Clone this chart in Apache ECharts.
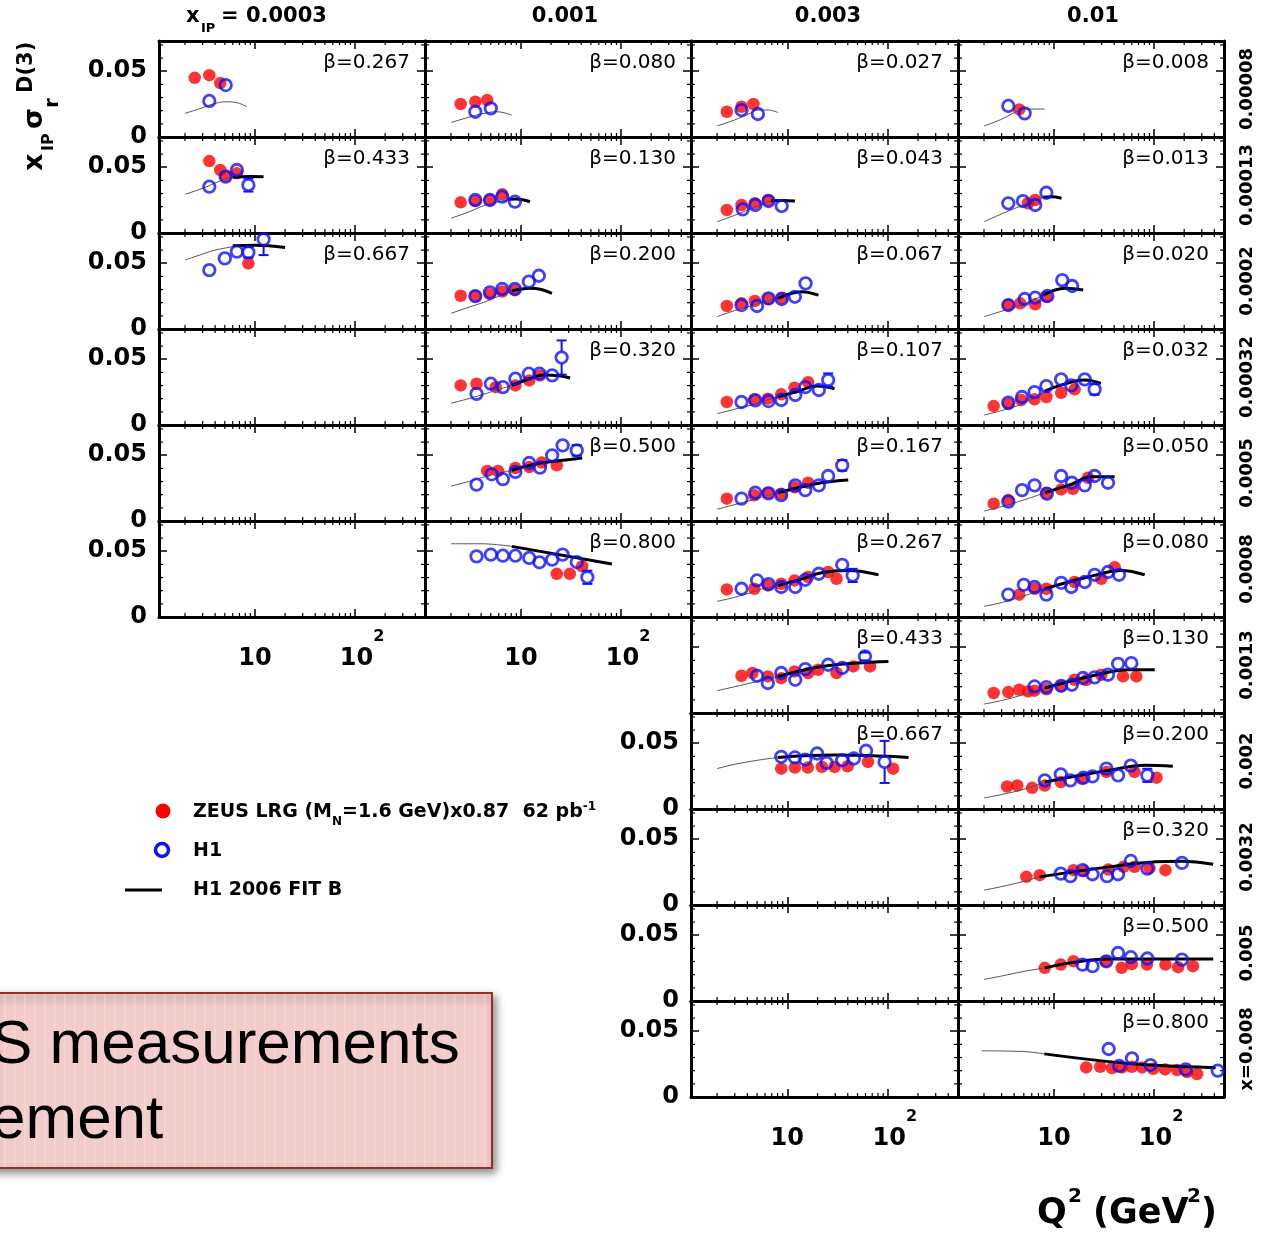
<!DOCTYPE html>
<html>
<head>
<meta charset="utf-8">
<script src="https://cdn.jsdelivr.net/npm/echarts@6/dist/echarts.min.js"></script>
<style>
  html, body { margin: 0; padding: 0; background: #fff; }
  #c { width: 1264px; height: 1235px; }
</style>
</head>
<body>
<div id="c"></div>
<script>
// column headers (x_IP bins) and row labels (x bins)
var xpomLabels = ['0.0003', '0.001', '0.003', '0.01'];
var xLabels = ['0.00008', '0.00013', '0.0002', '0.00032', '0.0005', '0.0008',
               '0.0013', '0.002', '0.0032', '0.005', 'x=0.008'];

// beta value of every panel, per column (empty = frame without data)
var betaA = ['0.267', '0.433', '0.667', '', '', ''];
var betaB = ['0.080', '0.130', '0.200', '0.320', '0.500', '0.800'];
var betaC = ['0.027', '0.043', '0.067', '0.107', '0.167', '0.267', '0.433', '0.667', '', '', ''];
var betaD = ['0.008', '0.013', '0.020', '0.032', '0.050', '0.080', '0.130', '0.200', '0.320', '0.500', '0.800'];

// ZEUS LRG points [Q2, xIP*sigma_r]
var zeusA = [
  [[2.5,.045],[3.5,.047],[4.5,.041]],
  [[3.5,.0547],[4.5,.0479],[5.1,.0436],[6.6,.0454]],
  [[8.6,.0499]],
  [], [], []
];
var zeusB = [
  [[2.5,.0251],[3.5,.0268],[4.6,.0281]],
  [[2.5,.0233],[3.5,.0243],[4.9,.0251],[6.5,.0294]],
  [[2.5,.0253],[3.5,.025],[4.9,.0265],[6.5,.0285],[8.7,.0295]],
  [[2.5,.0301],[3.6,.0314],[5.6,.0288],[8.8,.0301],[12.1,.0339],[15.5,.0377]],
  [[4.6,.038],[5.9,.038],[8.8,.0403],[12.1,.041],[16.1,.0444],[22.8,.0423]],
  [[22.8,.0328],[30.8,.0328],[40.9,.0386]]
];
var zeusC = [
  [[2.5,.0192],[3.5,.023],[4.6,.0251]],
  [[2.5,.0175],[3.5,.0213],[4.75,.0226],[6.46,.0251]],
  [[2.5,.0175],[3.5,.0195],[4.75,.0213],[6.46,.0228],[8.8,.0238]],
  [[2.5,.0175],[4.7,.0195],[6.4,.020],[8.7,.0233],[11.8,.0283],[16.1,.0326]],
  [[2.5,.017],[4.7,.0195],[6.4,.0215],[8.7,.0207],[11.8,.0256],[16.1,.0291]],
  [[2.5,.021],[4.7,.0215],[6.4,.024],[8.7,.0253],[11.8,.0278],[16.1,.0304],[25.5,.0342],[30.9,.0291]],
  [[3.5,.0283],[4.5,.0304],[6.4,.0278],[8.7,.0265],[11.8,.0316],[16.1,.0304],[20.3,.0329],[30.9,.0304],[45.4,.0354],[66.6,.0354]],
  [[8.7,.0307],[11.9,.0315],[16,.0315],[22.1,.032],[29.6,.032],[39.8,.0325],[63.5,.0358],[113,.0307]],
  [], [], []
];
var zeusD = [
  [[4.5,.021]],
  [[5.5,.0226],[6.5,.0251]],
  [[3.5,.0182],[4.6,.0195],[6.5,.0188],[8.4,.0245]],
  [[2.5,.0144],[3.5,.016],[4.7,.019],[6.4,.0195],[8.4,.0213],[11.8,.0245],[16.1,.0271]],
  [[2.5,.0132],[3.5,.0159],[8.4,.0215],[11.8,.024],[15.5,.0245],[21.9,.0329]],
  [[4.5,.017],[6.4,.0215],[8.4,.0215],[16.1,.0266],[29.7,.0291],[40.4,.0379]],
  [[2.5,.0152],[3.5,.0159],[4.5,.0177],[5.5,.0164],[6.4,.017],[8.4,.018],[11.8,.0205],[16.1,.0253],[21,.025],[29.7,.0291],[49,.0278],[66.6,.0278]],
  [[3.4,.0171],[4.3,.0179],[6.05,.0161],[8.1,.0179],[11.7,.0205],[19,.023],[33.4,.0282],[63.8,.0282],[106,.0238]],
  [[5.3,.0214],[7.2,.0227],[15.7,.0265],[20,.026],[35,.027],[49.5,.029],[63.8,.029],[90,.028],[130,.0265]],
  [[8.1,.0252],[11.7,.0277],[15.7,.0302],[33,.030],[47.5,.0252],[60,.028],[85,.0277],[130,.0277],[174,.0257],[245,.0265]],
  [[21,.0225],[29,.023],[38,.022],[48,.0225],[60,.023],[76,.0225],[98,.0215],[129,.021],[170,.0205],[214,.019],[269,.0175]]
];

// H1 points [Q2, value, (error)]
var h1A = [
  [[3.5,.0274],[5.1,.0395]],
  [[3.5,.0352],[5.1,.0428],[6.6,.0479],[8.6,.0365,.005]],
  [[3.5,.0448],[5.0,.0537],[6.6,.0588],[8.6,.0583,.004],[12.2,.0682,.012]],
  [], [], []
];
var h1B = [
  [[3.5,.0192],[5.0,.0218]],
  [[3.5,.0251],[4.9,.0251],[6.5,.0276],[8.7,.0238]],
  [[3.5,.025],[4.9,.0279],[6.5,.0304],[8.7,.0304],[12,.036],[15.1,.0405]],
  [[3.6,.0237],[5.0,.0314],[6.6,.0288],[8.8,.0352],[12,.039],[15.3,.039],[20.5,.0377],[25.5,.0513,.013]],
  [[3.6,.0277],[5.1,.0355],[6.6,.0318],[8.8,.0373],[12.1,.0441],[15.5,.0406],[20.5,.0499],[26.1,.0575],[36.1,.0537,.004]],
  [[3.6,.0461],[5.0,.0474],[6.6,.0466],[8.8,.0466],[12.1,.0449],[15.3,.0416],[20.5,.0436],[26.1,.0474],[36.1,.0418],[46.1,.0302,.005]]
];
var h1C = [
  [[3.5,.0205],[5.1,.0175]],
  [[3.6,.018],[4.8,.0213],[6.5,.0243],[8.8,.0205]],
  [[3.5,.0182],[5.0,.0175],[6.5,.0233],[8.8,.0228],[11.9,.0245],[15.2,.0347]],
  [[3.5,.0175],[4.8,.0187],[6.5,.0182],[8.7,.019],[12,.0228],[15.1,.0288],[20.6,.0266],[25.5,.0342,.005]],
  [[3.5,.017],[4.8,.0215],[6.5,.021],[8.7,.0197],[12,.0271],[15.1,.0235],[20.6,.0271],[25.5,.0342],[35.2,.0423,.004]],
  [[3.5,.0215],[5.0,.0278],[6.5,.025],[8.7,.0228],[12,.0228],[15.1,.0283],[20.6,.0329],[35.2,.0397],[44.7,.0316,.005]],
  [[5.0,.0283],[6.4,.0228],[8.7,.0304],[12,.0253],[15.1,.0334],[25.5,.0367],[35.2,.0342],[59.3,.043,.003]],
  [[8.7,.0397],[11.9,.0392],[15.1,.0376],[19.8,.0422],[24.6,.0351],[35.2,.0371],[46,.0384],[60.8,.0443],[93,.0358,.016]],
  [], [], []
];
var h1D = [
  [[3.5,.0236],[5.1,.018]],
  [[3.5,.0226],[4.9,.0243],[6.5,.0213],[8.4,.0306]],
  [[3.5,.0182],[5.1,.0228],[6.5,.0238],[8.6,.0251],[12.1,.0372],[15.2,.0327]],
  [[3.5,.017],[4.8,.0213],[6.4,.025],[8.4,.0296],[11.8,.0347],[14.9,.0301],[20.3,.0347],[25.5,.0271,.004]],
  [[3.5,.0147],[4.8,.0235],[6.4,.0271],[8.5,.0207],[11.8,.0342],[15.1,.0291],[20.3,.0271],[25.5,.0342],[34.7,.0291]],
  [[3.5,.017],[5.0,.0245],[6.4,.0228],[8.4,.017],[11.8,.026],[14.9,.0228],[20.3,.0266],[25.5,.0321],[34.7,.0342],[44.7,.0321]],
  [[6.4,.0202],[8.4,.0197],[11.8,.0207],[15.1,.0215],[19.5,.0266],[25.5,.0271],[34.7,.0291],[43.7,.0374],[59.3,.0379]],
  [[8.1,.0218],[11.7,.0264],[14.6,.0218],[19.7,.0238],[24.3,.0248],[33.4,.0307],[43.7,.0256],[58.6,.033],[85.7,.0256,.005]],
  [[11.7,.0239],[14.6,.0219],[19.3,.0265],[24.3,.0234],[33.9,.0219],[43.7,.0234],[58.6,.0335],[85.7,.0277],[190,.032]],
  [[19.3,.0277],[24.3,.0265],[33.4,.0302],[43.7,.0365],[58.6,.0333],[85.7,.0323],[190,.0315]],
  [[35.2,.0365],[44.9,.0236],[60.2,.0294],[92,.0243],[207,.021],[433,.02]]
];

// H1 2006 fit B: thin extrapolation below Q2min, thick in fitted range
var extA = [
  [[2.0,.018],[2.8,.0215],[3.8,.025],[5.2,.0268],[6.8,.0258],[8.3,.023]],
  [[2.0,.0294],[3,.034],[4,.038],[5,.041],[6,.0425]],
  [[2.0,.0524],[3,.057],[4,.060],[6,.0626]],
  [], [], []
];
var fitA = [
  [],
  [[6,.0423],[9,.043],[12.2,.0428]],
  [[6,.0633],[10,.0637],[20,.062]],
  [], [], []
];
var extB = [
  [[2.0,.011],[3,.015],[4,.0175],[5.7,.0192],[8.1,.0167]],
  [[2.0,.0112],[3,.016],[4,.020],[5,.0225],[7.4,.0251]],
  [[2.0,.0119],[3,.0165],[4.5,.021],[6,.025],[8.1,.0284]],
  [[2.0,.0166],[3,.020],[4.5,.024],[6,.027],[8.1,.0301]],
  [[2.0,.0265],[3,.030],[4.5,.034],[6,.0365],[8.1,.0386]],
  [[2.0,.0557],[4,.0557],[8.1,.0537]]
];
var fitB = [
  [],
  [[7.4,.0256],[9,.0258],[12.3,.0238]],
  [[8.1,.0289],[12.3,.031],[16,.030],[20.4,.0271]],
  [[8.1,.0301],[12,.035],[17,.038],[24,.0375],[31,.0357]],
  [[8.1,.0386],[14.3,.0436],[25,.046],[41,.0479]],
  [[8.1,.0537],[81,.0403]]
];
var extC = [
  [[2.0,.0084],[3,.013],[4,.017],[5.1,.0205],[6.5,.0205],[8.1,.0185]],
  [[2.0,.0086],[3,.0135],[4.5,.019],[6.9,.0245]],
  [[2.0,.0094],[3,.014],[4.5,.018],[6,.021],[8.1,.0233]],
  [[2.0,.0086],[3,.012],[4.5,.0155],[6,.0185],[8.1,.0215]],
  [[2.0,.0089],[3,.0125],[4.5,.016],[6,.019],[8.1,.0215]],
  [[2.0,.0119],[3,.015],[4.5,.019],[6,.022],[8.1,.024]],
  [[2.0,.017],[3,.020],[5,.024],[8.1,.0278]],
  [[2.0,.0307],[3,.034],[5,.037],[8.0,.0392]],
  [], [], []
];
var fitC = [
  [],
  [[6.9,.0245],[9,.0248],[11.9,.0243]],
  [[8.1,.0233],[13.9,.0284],[20.4,.0258]],
  [[8.1,.0215],[12,.025],[20,.0296],[29.5,.0276]],
  [[8.1,.0215],[14,.026],[21.9,.0291],[40.4,.0311]],
  [[8.1,.024],[14,.029],[21.9,.0336],[40.4,.0354],[80.7,.0321]],
  [[8.1,.0278],[21.9,.0354],[50,.038],[101.6,.0392]],
  [[8.0,.0392],[29.6,.041],[161,.0392]],
  [], [], []
];
var extD = [
  [[2.0,.0084],[3,.0135],[4.7,.0205],[6,.0212],[8.1,.0213]],
  [[2.0,.0086],[3,.0145],[4.5,.020],[7.8,.0271]],
  [[2.0,.0094],[3,.0135],[5,.019],[7.8,.0258]],
  [[2.0,.0076],[3,.011],[5,.0165],[8.1,.0258]],
  [[2.0,.0076],[3,.011],[5,.016],[8.1,.0215]],
  [[2.0,.0081],[3,.011],[5,.016],[8.1,.0215]],
  [[2.0,.0068],[3,.0095],[5,.014],[8.1,.019]],
  [[2.0,.0084],[3,.011],[5,.015],[8.1,.0205]],
  [[2.0,.0113],[3,.014],[5,.018],[7.2,.0214]],
  [[2.0,.0164],[3,.019],[5,.0225],[8.1,.0252]],
  [[1.9,.0351],[4.9,.0346],[8.0,.0328]]
];
var fitD = [
  [],
  [[7.8,.0271],[9.5,.0275],[11.9,.0264]],
  [[7.8,.0258],[12.9,.031],[19.6,.0296]],
  [[8.1,.0258],[12,.0305],[20,.0342],[29.5,.0316]],
  [[8.1,.0215],[15,.028],[23.4,.0336],[40.4,.0336]],
  [[8.1,.0215],[21.9,.0304],[46.8,.0354],[80.7,.0321]],
  [[8.1,.019],[32.1,.0304],[55,.0329],[101.6,.0329]],
  [[8.1,.0205],[35.5,.0294],[82,.0333],[154,.0325]],
  [[7.2,.0214],[35.5,.029],[105,.0328],[190,.0333],[390,.031]],
  [[8.1,.0252],[35.5,.032],[390,.032]],
  [[8.0,.0328],[35.2,.0269],[92,.0243],[412,.0223]]
];

// axis ranges and tick positions
var Q2MIN = 1.1, Q2MAX = 500, YMAX = 0.073;
var minorQ2 = [2,3,4,5,6,7,8,9,20,30,40,50,60,70,80,90,200,300,400];
var minorY = [0.01,0.02,0.03,0.04,0.06,0.07];

var RED = '#ff0000', BLUE = '#1010ff';
var FONT = 'DejaVu Sans';
var colLeft = [159, 425, 691, 958], colW = [266, 266, 267, 266];

var cols = [
  {z: zeusA, h: h1A, e: extA, f: fitA, b: betaA},
  {z: zeusB, h: h1B, e: extB, f: fitB, b: betaB},
  {z: zeusC, h: h1C, e: extC, f: fitC, b: betaC},
  {z: zeusD, h: h1D, e: extD, f: fitD, b: betaD}
];

function makeX(gi, pos, showLabel) {
  return {
    type: 'log', gridIndex: gi, position: pos, min: Q2MIN, max: Q2MAX,
    axisLine: {show: true, onZero: false, lineStyle: {color: '#000', width: 3}},
    axisTick: {show: true, inside: true, length: 8, lineStyle: {color: '#000', width: 1.5}},
    splitLine: {show: false},
    axisLabel: {
      show: showLabel, margin: 12, color: '#000',
      formatter: function (v) {
        if (Math.abs(v - 10) < 1e-6) return '{n|10}';
        if (Math.abs(v - 100) < 1e-6) return '{m|10}{s|2}';
        return '';
      },
      rich: {
        n: {fontFamily: FONT, fontWeight: 'bold', fontSize: 24, lineHeight: 42, verticalAlign: 'bottom', color: '#000'},
        m: {fontFamily: FONT, fontWeight: 'bold', fontSize: 24, lineHeight: 42, verticalAlign: 'bottom', color: '#000', padding: [0, 0, 0, 14]},
        s: {fontFamily: FONT, fontWeight: 'bold', fontSize: 16, lineHeight: 16, verticalAlign: 'top', color: '#000'}
      }
    }
  };
}

function makeY(gi, pos, showLabel) {
  return {
    type: 'value', gridIndex: gi, position: pos, min: 0, max: YMAX, interval: 0.05,
    axisLine: {show: true, onZero: false, lineStyle: {color: '#000', width: 3}},
    axisTick: {show: true, inside: true, length: 8, lineStyle: {color: '#000', width: 1.5}},
    splitLine: {show: false},
    axisLabel: {
      show: showLabel, margin: 12, color: '#000',
      fontFamily: FONT, fontWeight: 'bold', fontSize: 24,
      formatter: function (v) {
        if (Math.abs(v - 0.05) < 1e-9) return '0.05';
        if (Math.abs(v) < 1e-9) return '0';
        return '';
      }
    }
  };
}

function minorTicks(params, api) {
  var ch = [];
  var st = {stroke: '#000', lineWidth: 1.2};
  var yb = api.coord([10, 0])[1], yt = api.coord([10, YMAX])[1];
  var xl = api.coord([Q2MIN, 0])[0], xr = api.coord([Q2MAX, 0])[0];
  minorQ2.forEach(function (q) {
    var x = api.coord([q, 0])[0];
    ch.push({type: 'line', shape: {x1: x, y1: yb, x2: x, y2: yb - 4}, style: st});
    ch.push({type: 'line', shape: {x1: x, y1: yt, x2: x, y2: yt + 4}, style: st});
  });
  minorY.forEach(function (v) {
    var y = api.coord([10, v])[1];
    ch.push({type: 'line', shape: {x1: xl, y1: y, x2: xl + 4, y2: y}, style: st});
    ch.push({type: 'line', shape: {x1: xr, y1: y, x2: xr - 4, y2: y}, style: st});
  });
  return {type: 'group', children: ch};
}

function errorBar(params, api) {
  var x = api.value(0), y = api.value(1), e = api.value(2);
  var c = api.coord([x, y]);
  var t = api.coord([x, y + e]), b = api.coord([x, y - e]);
  var st = {stroke: BLUE, lineWidth: 2};
  var w = 5;
  return {type: 'group', children: [
    {type: 'line', shape: {x1: c[0], y1: t[1], x2: c[0], y2: c[1] - 6}, style: st},
    {type: 'line', shape: {x1: c[0], y1: c[1] + 6, x2: c[0], y2: b[1]}, style: st},
    {type: 'line', shape: {x1: c[0] - w, y1: t[1], x2: c[0] + w, y2: t[1]}, style: st},
    {type: 'line', shape: {x1: c[0] - w, y1: b[1], x2: c[0] + w, y2: b[1]}, style: st}
  ]};
}

var grid = [], xAxis = [], yAxis = [], series = [], graphic = [];

cols.forEach(function (col, c) {
  col.b.forEach(function (beta, r) {
    var gi = grid.length;
    var last = r === col.b.length - 1;
    var leftmost = c === 0 || (c === 2 && r >= 7);
    var top = 41 + 96 * r;
    grid.push({left: colLeft[c], top: top, width: colW[c], height: 96});
    xAxis.push(makeX(gi, 'bottom', last));
    xAxis.push(makeX(gi, 'top', false));
    yAxis.push(makeY(gi, 'left', leftmost));
    yAxis.push(makeY(gi, 'right', false));
    var xi = 2 * gi, yi = 2 * gi;

    series.push({type: 'custom', xAxisIndex: xi, yAxisIndex: yi, data: [[10, 0.03]],
      renderItem: minorTicks, silent: true, z: 1, clip: false});

    if (col.z[r].length) {
      series.push({type: 'scatter', xAxisIndex: xi, yAxisIndex: yi, data: col.z[r],
        symbol: 'circle', symbolSize: 12.5, itemStyle: {color: RED}, z: 2});
    }
    if (col.e[r].length) {
      series.push({type: 'line', xAxisIndex: xi, yAxisIndex: yi, data: col.e[r],
        symbol: 'none', smooth: 0.4, lineStyle: {color: '#555', width: 1}, z: 3});
    }
    if (col.f[r].length) {
      series.push({type: 'line', xAxisIndex: xi, yAxisIndex: yi, data: col.f[r],
        symbol: 'none', smooth: 0.4, lineStyle: {color: '#000', width: 3}, z: 3});
    }
    if (col.h[r].length) {
      series.push({type: 'scatter', xAxisIndex: xi, yAxisIndex: yi,
        data: col.h[r].map(function (p) { return [p[0], p[1]]; }),
        symbol: 'circle', symbolSize: 11.5,
        itemStyle: {color: 'rgba(0,0,0,0)', borderColor: BLUE, borderWidth: 2.8}, z: 4});
      var errs = col.h[r].filter(function (p) { return p.length > 2; });
      if (errs.length) {
        series.push({type: 'custom', xAxisIndex: xi, yAxisIndex: yi, data: errs,
          encode: {x: 0, y: 1}, renderItem: errorBar, clip: true, z: 4});
      }
    }
    if (beta) {
      graphic.push({type: 'text', x: colLeft[c] + colW[c] - 15, y: top + 22,
        style: {text: '\u03b2=' + beta, align: 'right', verticalAlign: 'middle',
          fontFamily: FONT, fontSize: 20, fill: '#000'}});
    }
  });
});

// column headers
graphic.push({type: 'text', x: 186, y: 17, style: {text: 'x', verticalAlign: 'middle', fontFamily: FONT, fontWeight: 'bold', fontSize: 21, fill: '#000'}});
graphic.push({type: 'text', x: 201, y: 29, style: {text: 'IP', verticalAlign: 'middle', fontFamily: FONT, fontWeight: 'bold', fontSize: 13, fill: '#000'}});
graphic.push({type: 'text', x: 221, y: 17, style: {text: '= ' + xpomLabels[0], verticalAlign: 'middle', fontFamily: FONT, fontWeight: 'bold', fontSize: 21, fill: '#000'}});
[565, 828, 1093].forEach(function (cx, i) {
  graphic.push({type: 'text', x: cx, y: 17, style: {text: xpomLabels[i + 1], align: 'center', verticalAlign: 'middle',
    fontFamily: FONT, fontWeight: 'bold', fontSize: 21, fill: '#000'}});
});

// row labels on the right
xLabels.forEach(function (t, r) {
  graphic.push({type: 'text', x: 1247, y: 41 + 96 * r + 48, rotation: Math.PI / 2,
    style: {text: t, align: 'center', verticalAlign: 'middle', fontFamily: FONT, fontWeight: 'bold', fontSize: 18, fill: '#000'}});
});

// y axis title  x_IP sigma_r^D(3)
function tt(text, x, y, size) {
  return {type: 'text', x: x, y: y, style: {text: text, verticalAlign: 'middle', fontFamily: FONT,
    fontWeight: 'bold', fontSize: size, fill: '#000'}};
}
graphic.push({type: 'group', x: 44, y: 171, rotation: Math.PI / 2, children: [
  tt('x', 0, -9, 27),
  tt('IP', 20, 5, 16),
  tt('\u03c3', 42, -9, 27),
  tt('r', 63, 9, 20),
  tt('D(3)', 78, -17, 21)
]});

// x axis title  Q2 (GeV2)
graphic.push(tt('Q', 1037, 1214, 35));
graphic.push(tt('2', 1068, 1197, 20));
graphic.push(tt('(GeV', 1093, 1214, 35));
graphic.push(tt('2', 1187, 1197, 20));
graphic.push(tt(')', 1201, 1214, 35));

// legend
graphic.push({type: 'circle', shape: {cx: 163, cy: 811, r: 7.5}, style: {fill: RED}});
graphic.push({type: 'text', x: 193, y: 812, style: {
  text: '{a|ZEUS LRG (M}{b|N}{a|=1.6 GeV)x0.87  62 pb}{c|-1}', verticalAlign: 'middle',
  rich: {
    a: {fontFamily: FONT, fontWeight: 'bold', fontSize: 19, lineHeight: 22, verticalAlign: 'middle', fill: '#000'},
    b: {fontFamily: FONT, fontWeight: 'bold', fontSize: 12, lineHeight: 12, verticalAlign: 'top', padding: [15, 0, 3, 0], fill: '#000'},
    c: {fontFamily: FONT, fontWeight: 'bold', fontSize: 12, lineHeight: 12, verticalAlign: 'top', padding: [0, 0, 18, 0], fill: '#000'}
  }}});
graphic.push({type: 'circle', shape: {cx: 162, cy: 850, r: 6.5}, style: {fill: 'none', stroke: BLUE, lineWidth: 3.5}});
graphic.push(tt('H1', 193, 851, 19));
graphic.push({type: 'line', shape: {x1: 125, y1: 890, x2: 162, y2: 890}, style: {stroke: '#000', lineWidth: 3}});
graphic.push(tt('H1 2006 FIT B', 193, 890, 19));

// slide callout box partly off the left edge
var box = [{type: 'rect', shape: {x: -10, y: 993, width: 502, height: 175},
  style: {fill: '#f2cbcb', stroke: '#93302a', lineWidth: 2,
    shadowBlur: 8, shadowOffsetX: 3, shadowOffsetY: 4, shadowColor: 'rgba(0,0,0,0.45)'}}];
for (var sx = 4; sx < 490; sx += 10) {
  box.push({type: 'rect', shape: {x: sx, y: 994, width: 1.5, height: 173}, style: {fill: 'rgba(255,255,255,0.22)'}});
}
box.push({type: 'text', x: -9, y: 1046, style: {text: 'S measurements', verticalAlign: 'middle',
  fontFamily: 'Liberation Sans', fontSize: 62, fill: '#000'}});
box.push({type: 'text', x: -9, y: 1121, style: {text: 'ement', verticalAlign: 'middle',
  fontFamily: 'Liberation Sans', fontSize: 62, fill: '#000'}});
graphic.push({type: 'group', children: box, z: 10});

var chart = echarts.init(document.getElementById('c'), null, {renderer: 'canvas'});
chart.setOption({
  backgroundColor: '#fff',
  animation: false,
  grid: grid,
  xAxis: xAxis,
  yAxis: yAxis,
  series: series,
  graphic: graphic
});
window.onresize = chart.resize;
</script>
</body>
</html>
